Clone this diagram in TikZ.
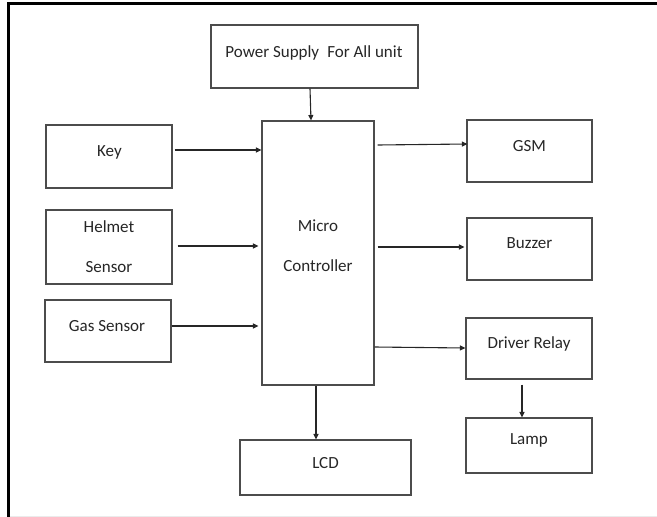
\documentclass[tikz,border=0pt]{standalone}
\usepackage{fontspec}
\setmainfont{Carlito}
\usetikzlibrary{arrows.meta,calc}
\begin{document}
\begin{tikzpicture}[x=1pt,y=-1pt,
  box/.style={draw=black!70, line width=1.1pt, inner sep=0pt, rectangle},
  txt/.style={inner sep=0pt, text=black!85, font=\fontsize{17}{40}\selectfont, align=center},
  arr/.style={draw=black!85, line width=1.1pt, -{Triangle[length=5.5pt,width=5pt]}}]
\useasboundingbox (0,0) rectangle (657,517);
% outer frame
\draw[line width=3pt, black] (8,517) -- (8,3) -- (657,3);
\draw[line width=0.8pt, black!8] (10,516) -- (657,516);
% boxes
\node[box, minimum width=207, minimum height=63] (pwr) at (314.5,56.5) {};
\node[box, minimum width=126, minimum height=63] (key) at (109,156.5) {};
\node[box, minimum width=126, minimum height=74] (helm) at (109,247) {};
\node[box, minimum width=126, minimum height=62] (gas) at (108,331) {};
\node[box, minimum width=112, minimum height=264] (mcu) at (318,253) {};
\node[box, minimum width=125, minimum height=62] (gsm) at (529.5,151) {};
\node[box, minimum width=125, minimum height=62] (buz) at (529.5,249) {};
\node[box, minimum width=126, minimum height=61] (drv) at (529,348.5) {};
\node[box, minimum width=126, minimum height=55] (lamp) at (529,445.5) {};
\node[box, minimum width=171, minimum height=55] (lcd) at (325.5,467.5) {};
% texts
\node[txt, anchor=base] (pwrT) at (314,57) {Power Supply\hspace{0.25em} For All unit};
\node[txt, anchor=base] (keyT) at (109.5,156) {Key};
\node[txt] (helmT) at (109,247) {Helmet\\Sensor};
\node[txt, anchor=base] (gasT) at (107,331) {Gas Sensor};
\node[txt] (mcuT) at (318,246) {Micro\\Controller};
\node[txt, anchor=base] (gsmT) at (529.5,151) {GSM};
\node[txt, anchor=base] (buzT) at (529.5,248) {Buzzer};
\node[txt, anchor=base] (drvT) at (529,348) {Driver Relay};
\node[txt, anchor=base] (lampT) at (529,444) {Lamp};
\node[txt, anchor=base] (lcdT) at (325.5,468) {LCD};
% connectors
\draw[arr] ($(pwr.south)+(-4.5,0)$) -- ($(mcu.north)+(-7,0)$);
\draw[arr] ($(key.east)+(2,-6.5)$) -- ($(mcu.west |- key.east)+(0,-6.5)$);
\draw[arr] ($(helm.east)+(5,-1)$) -- ($(mcu.west |- helm.east)+(-3,-1)$);
\draw[arr] ($(gas.east)+(0,-5)$) -- ($(mcu.west |- gas.east)+(-3,-5)$);
\draw[arr] ($(mcu.east |- gsm.west)+(3,-6)$) -- ($(gsm.west)+(1,-7)$);
\draw[arr] ($(mcu.east |- buz.west)+(3,-2)$) -- ($(buz.west)+(-2,-2)$);
\draw[arr] ($(mcu.east |- drv.west)+(0,-1.5)$) -- ($(drv.west)+(0,-0.5)$);
\draw[arr] ($(mcu.south)+(-2,0)$) -- ($(lcd.north)+(-9.5,0)$);
\draw[arr] ($(drv.south)+(-7,5)$) -- ($(lamp.north)+(-7,0)$);
\end{tikzpicture}
\end{document}
